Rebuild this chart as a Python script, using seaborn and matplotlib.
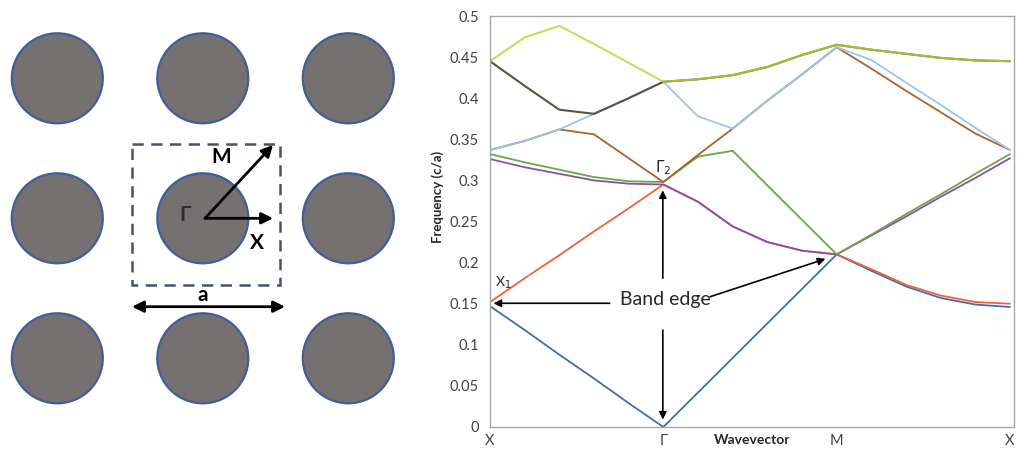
import numpy as np
import pandas as pd
import matplotlib
matplotlib.use("Agg")
import matplotlib.pyplot as plt
from matplotlib.patches import Ellipse, Rectangle
import seaborn as sns

# ---- band structure data (path X - Gamma - M - X, 5 steps per segment) ----
kpath = [0.0, 0.2, 0.4, 0.6, 0.8, 1.0, 1.2, 1.4, 1.6, 1.8,
         2.0, 2.2, 2.4, 2.6, 2.8, 3.0]
band1 = [0.147, 0.118, 0.088, 0.059, 0.029, 0.000, 0.042, 0.084, 0.126, 0.168,
         0.210, 0.190, 0.171, 0.157, 0.149, 0.146]
band2 = [0.152, 0.181, 0.209, 0.238, 0.266, 0.295, 0.274, 0.244, 0.225, 0.2145,
         0.210, 0.192, 0.173, 0.160, 0.152, 0.150]
band3 = [0.326, 0.316, 0.308, 0.300, 0.296, 0.295, 0.274, 0.244, 0.225, 0.2145,
         0.210, 0.233, 0.256, 0.280, 0.303, 0.327]
band4 = [0.332, 0.322, 0.313, 0.304, 0.299, 0.298, 0.329, 0.336, 0.294, 0.252,
         0.210, 0.234, 0.259, 0.283, 0.308, 0.332]
band5 = [0.337, 0.348, 0.362, 0.356, 0.327, 0.298, 0.331, 0.363, 0.397, 0.429,
         0.462, 0.436, 0.409, 0.383, 0.357, 0.337]
band6 = [0.337, 0.348, 0.362, 0.381, 0.400, 0.420, 0.378, 0.363, 0.397, 0.429,
         0.462, 0.4465, 0.419, 0.392, 0.364, 0.337]
band7 = [0.445, 0.415, 0.386, 0.381, 0.400, 0.420, 0.423, 0.428, 0.438, 0.4525,
         0.465, 0.459, 0.454, 0.449, 0.446, 0.445]
band8 = [0.445, 0.474, 0.488, 0.466, 0.443, 0.420, 0.423, 0.428, 0.438, 0.4525,
         0.465, 0.459, 0.454, 0.449, 0.446, 0.445]

sym_ticks = [0, 1, 2, 3]
sym_labels = ["X", "\u0393", "M", "X"]
freq_ticks = [0, 0.05, 0.1, 0.15, 0.2, 0.25, 0.3, 0.35, 0.4, 0.45, 0.5]

# drawing order: later bands sit on top where they coincide
bands = {"b1": band1, "b2": band2, "b3": band3, "b4": band4,
         "b5": band5, "b6": band6, "b7": band7, "b8": band8}
colors = {"b1": "#3D70A8", "b2": "#F2603F", "b3": "#8D4FA8", "b4": "#6AA842",
          "b5": "#A8622F", "b6": "#96C8EA", "b7": "#4B5A40", "b8": "#B8D434"}
widths = {k: 1.3 for k in bands}
widths["b7"] = 1.5
widths["b8"] = 1.5
alphas = {k: 1.0 for k in bands}
alphas["b8"] = 0.8

df = pd.concat([pd.DataFrame({"k": kpath, "freq": v, "band": name})
                for name, v in bands.items()], ignore_index=True)

# ---- square lattice of rods ----
lat_cols = [-1, 0, 1]
lat_rows = [-1, 0, 1]

sns.set_theme(style="white")
plt.rcParams["font.family"] = ["Lato", "DejaVu Sans"]

W, H = 1017, 449
fig = plt.figure(figsize=(W / 100, H / 100), dpi=100)

# left panel drawn in pixel-like units
axl = fig.add_axes([0, 0, 420 / W, 1])
axl.set_xlim(0, 420)
axl.set_ylim(H, 0)
axl.axis("off")

cx0, cy0 = 202.8, 218.3
px, py = 145.5, 140.0
for r in lat_rows:
    for c in lat_cols:
        axl.add_patch(Ellipse((cx0 + c * px, cy0 + r * py), 91, 90,
                              facecolor="#767171", edgecolor="#3F5E9A", lw=1.6))

axl.add_patch(Rectangle((131.7, 144), 148.3, 141, fill=False,
                        edgecolor="#44546A", lw=1.8, ls=(0, (4.5, 3))))

arrow_kw = dict(arrowstyle="-|>", color="black", lw=2.0, mutation_scale=17,
                shrinkA=0, shrinkB=0)
axl.annotate("", xy=(273, 145), xytext=(205, 218.3), arrowprops=arrow_kw)
axl.annotate("", xy=(273, 218.3), xytext=(205, 218.3), arrowprops=arrow_kw)
axl.annotate("", xy=(285, 306.7), xytext=(132, 306.7),
             arrowprops=dict(arrowstyle="<|-|>", color="black", lw=2.0,
                             mutation_scale=17, shrinkA=0, shrinkB=0))

lab_kw = dict(fontsize=15, fontweight="bold", ha="center", va="center")
axl.text(221, 157, "M", color="black", **lab_kw)
axl.text(185, 215, "\u0393", color="#2E2E2E", **lab_kw)
axl.text(257, 243, "X", color="black", **lab_kw)
axl.text(202.5, 295, "a", color="black", **lab_kw)

# right panel: band diagram
x0, x1 = 490, 1014
y0, y1 = 427, 16
ax = fig.add_axes([x0 / W, (H - y0) / H, (x1 - x0) / W, (y0 - y1) / H])

for name in bands:
    sns.lineplot(data=df[df["band"] == name], x="k", y="freq", ax=ax,
                 color=colors[name], lw=widths[name], alpha=alphas[name],
                 sort=False, estimator=None, legend=False)

ax.set_xlim(0, 3.023)
ax.set_ylim(0, 0.5)
ax.set_xticks(sym_ticks)
ax.set_xticklabels(sym_labels)
ax.set_yticks(freq_ticks)
ax.set_yticklabels([f"{t:g}" for t in freq_ticks])
ax.tick_params(axis="both", length=0, labelsize=10.5, labelcolor="#404040")
ax.tick_params(axis="y", pad=8)
ax.tick_params(axis="x", pad=5)
ax.set_xlabel("")
ax.set_ylabel("")
for sp in ax.spines.values():
    sp.set_color("#A6A6A6")
    sp.set_linewidth(1.0)

ax.text(1.51, -0.032, "Wavevector", transform=ax.get_xaxis_transform(),
        ha="center", va="center", fontsize=10, fontweight="bold",
        color="#262626")
ax.text(-0.099, 0.56, "Frequency (c/a)", transform=ax.transAxes,
        rotation=90, ha="center", va="center", fontsize=9.5,
        fontweight="bold", color="#262626")

# band-edge annotation
ax.text(1.01, 0.1554, "Band edge", ha="center", va="center", fontsize=14,
        color="#262626")
ann_kw = dict(arrowstyle="-|>", color="black", lw=1.2, mutation_scale=11,
              shrinkA=0, shrinkB=0)
ax.annotate("", xy=(0.02, 0.1505), xytext=(0.69, 0.1505), arrowprops=ann_kw)
ax.annotate("", xy=(0.997, 0.288), xytext=(0.997, 0.181), arrowprops=ann_kw)
ax.annotate("", xy=(0.997, 0.009), xytext=(0.997, 0.118), arrowprops=ann_kw)
ax.annotate("", xy=(1.935, 0.2045), xytext=(1.27, 0.1585), arrowprops=ann_kw)

ax.text(0.997, 0.316, r"$\Gamma_2$", ha="center", va="center", fontsize=11,
        color="#262626")
ax.text(0.075, 0.176, r"X$_1$", ha="center", va="center", fontsize=10,
        color="#262626")

fig.savefig("out.png", dpi=100)
